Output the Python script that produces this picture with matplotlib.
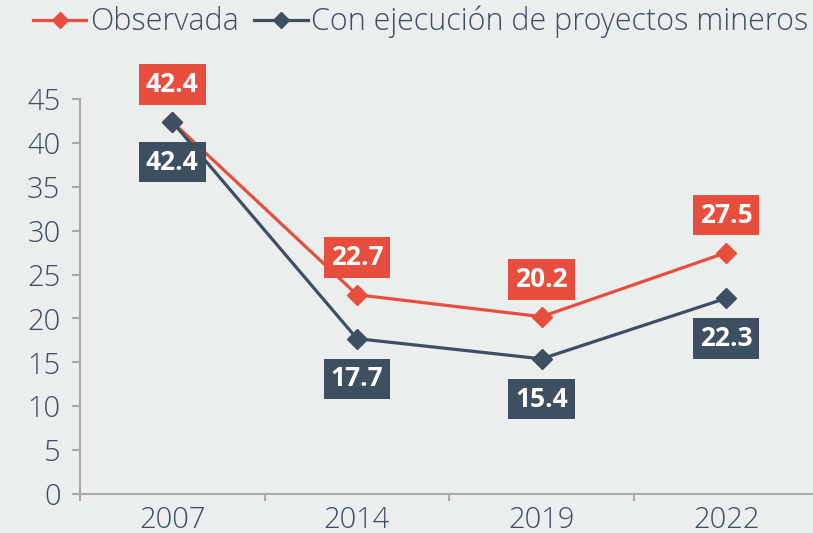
import matplotlib.pyplot as plt
from matplotlib.lines import Line2D

plt.rcParams.update({
    "font.family": ["Open Sans", "DejaVu Sans"],
    "font.size": 20,
})

# データ
years = ["2007", "2014", "2019", "2022"]
observada = [42.4, 22.7, 20.2, 27.5]
con_mineros = [42.4, 17.7, 15.4, 22.3]
yticks = [0, 5, 10, 15, 20, 25, 30, 35, 40, 45]

red = "#E84E3E"
dark = "#3D4F61"
bg = "#EAEEED"
axis_gray = "#A9A9A9"

fig = plt.figure(figsize=(8.13, 5.33), dpi=100, facecolor=bg)
ax = fig.add_axes([80 / 813, 1 - 494 / 533, 733 / 813, 395 / 533], facecolor=bg)

x = list(range(len(years)))
ax.plot(x, observada, color=red, lw=2.3, marker="D", markersize=10, zorder=3)
ax.plot(x, con_mineros, color=dark, lw=2.3, marker="D", markersize=10, zorder=4)

# ラベル（上：観測値、下：鉱山プロジェクト込み）
for xi, v in zip(x, observada):
    ax.annotate(f"{v:.1f}", (xi, v), xytext=(0, 27), textcoords="offset points",
                ha="center", va="center", color="white", fontsize=19, fontweight="bold",
                bbox=dict(boxstyle="square,pad=0.26", fc=red, ec="none"), zorder=5,
                annotation_clip=False)
for xi, v in zip(x, con_mineros):
    ax.annotate(f"{v:.1f}", (xi, v), xytext=(0, -29), textcoords="offset points",
                ha="center", va="center", color="white", fontsize=19, fontweight="bold",
                bbox=dict(boxstyle="square,pad=0.26", fc=dark, ec="none"), zorder=5,
                annotation_clip=False)

ax.set_xlim(-0.5, 3.47)
ax.set_ylim(0, 45)
ax.set_yticks(yticks)
ax.set_xticks(x)
ax.set_xticklabels(years)
ax.set_xticks([-0.5, 0.5, 1.5, 2.5], minor=True)

for s in ["top", "right"]:
    ax.spines[s].set_visible(False)
for s in ["left", "bottom"]:
    ax.spines[s].set_color(axis_gray)
    ax.spines[s].set_linewidth(1.5)

ax.tick_params(axis="y", colors=axis_gray, labelcolor=dark, length=6, width=1.5,
               pad=8, labelsize=21)
ax.tick_params(axis="x", which="major", length=0, labelcolor=dark, pad=8, labelsize=21)
ax.tick_params(axis="x", which="minor", colors=axis_gray, length=5, width=1.5)
for lab in ax.get_xticklabels() + ax.get_yticklabels():
    lab.set_fontweight("light")

handles = [
    Line2D([], [], color=red, lw=2.3, marker="D", markersize=8),
    Line2D([], [], color=dark, lw=2.3, marker="D", markersize=8),
]
leg = fig.legend(handles, ["Observada", "Con ejecución de proyectos mineros"],
                 loc="center left", bbox_to_anchor=(33 / 813, 1 - 22 / 533), ncol=2,
                 frameon=False, fontsize=22, handlelength=1.75, handletextpad=0.12,
                 columnspacing=0.5, borderpad=0, borderaxespad=0, labelcolor=dark)
for t in leg.get_texts():
    t.set_fontweight("light")

plt.savefig("out.png", dpi=100, facecolor=bg)
